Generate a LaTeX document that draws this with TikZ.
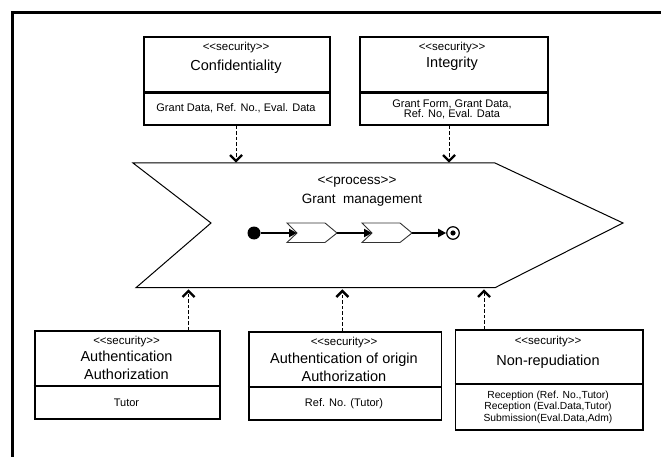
\documentclass[tikz,border=0pt]{standalone}
\usepackage{fontspec}
\setmainfont{Liberation Sans}
\newcommand{\stq}[1]{<{}<#1>{}>}
\tikzset{
  secbox/.style={draw, line width=1.8pt, inner sep=0pt, anchor=north west},
  divider/.style={line width=2.6pt},
  stereo/.style={font=\fontsize{11.5}{13}\selectfont, inner sep=0pt},
  bname/.style={font=\fontsize{14.5}{18}\selectfont, inner sep=0pt, align=center},
  sect/.style={font=\fontsize{11}{11}\selectfont, inner sep=0pt, align=center},
  sectsmall/.style={font=\fontsize{10.3}{11.5}\selectfont, inner sep=0pt, align=center},
  dep/.style={line width=0.9pt, dash pattern=on 3.5pt off 2pt},
  barb/.style={line width=2.4pt, line cap=butt, line join=miter},
  flow/.style={line width=2pt, -{Stealth[length=8pt, width=8pt, inset=0pt]}},
  chev/.style={line width=0.9pt, draw=black!80},
}
\usetikzlibrary{arrows.meta}
\begin{document}
\begin{tikzpicture}[x=1pt,y=-1pt]
\useasboundingbox (0,0) rectangle (661,457);
% frame
\draw[line width=3pt, line join=miter] (661,13) -- (12,13) -- (12,457);

% ---- top boxes
\node[secbox, minimum width=186pt, minimum height=88pt] (conf) at (143.3,36) {};
\draw[divider] (143.3,92.7) -- (329.3,92.7);
\node[stereo] (confst) at (236,48) {\stq{security}};
\node[bname] (confn) at (236,67) {Confidentiality};
\node[sect] (confs) at (236,108.5) {Grant Data, Ref. No., Eval. Data};

\node[secbox, minimum width=187.6pt, minimum height=88pt] (integ) at (359.2,36) {};
\draw[divider] (359.2,92.7) -- (546.8,92.7);
\node[stereo] (integst) at (452,48) {\stq{security}};
\node[bname] (integn) at (452,64) {Integrity};
\node[sect, font=\fontsize{11}{9.5}\selectfont] (integs) at (452,109.5) {Grant Form, Grant Data,\\ Ref. No, Eval. Data};

% ---- process shape
\coordinate (ptl) at (133,163);
\coordinate (ptr) at (495,163);
\coordinate (ptip) at (623,223);
\coordinate (pbr) at (495,287.7);
\coordinate (pbl) at (136,287.7);
\coordinate (pnotch) at (211,223);
\draw[line width=1pt] (ptl) -- (ptr) -- (ptip) -- (pbr) -- (pbl) -- (pnotch) -- cycle;
\node[font=\fontsize{13.5}{15}\selectfont, inner sep=0pt] (procst) at (357,182) {\stq{process}};
\node[font=\fontsize{13.5}{15}\selectfont, inner sep=0pt] (procn) at (362,200) {Grant\ \ management};

% inner flow
\node[circle, fill=black, minimum size=13pt, inner sep=0pt] (start) at (254,233) {};
\draw[chev] (287,223) -- (325,223) -- (337,233) -- (325,242.5) -- (287,242.5) -- (297,233) -- cycle;
\draw[chev] (362,223) -- (400,223) -- (412,233) -- (400,242.5) -- (362,242.5) -- (372,233) -- cycle;
\coordinate (c1in) at (297,233);
\coordinate (c1out) at (337,233);
\coordinate (c2in) at (372,233);
\coordinate (c2out) at (412,233);
\node[circle, draw, line width=1.2pt, minimum size=12.5pt, inner sep=0pt] (finish) at (453,233) {};
\fill (finish.center) circle (2.6pt);
\draw[flow] (start) -- (c1in);
\draw[flow] (c1out) -- (c2in);
\draw[flow] (c2out) -- (finish);

% top dependency arrows
\coordinate (a1) at (236,161);
\coordinate (a2) at (449,161);
\draw[dep] (conf.south -| a1) -- (a1);
\draw[dep] (integ.south -| a2) -- (a2);
\draw[barb] ([xshift=-6pt,yshift=6pt]a1) -- (a1) -- ([xshift=6pt,yshift=6pt]a1);
\draw[barb] ([xshift=-6pt,yshift=6pt]a2) -- (a2) -- ([xshift=6pt,yshift=6pt]a2);

% ---- bottom boxes
\node[secbox, minimum width=185.5pt, minimum height=88pt] (auth) at (33.7,330) {};
\draw[divider] (33.7,386) -- (219.2,386);
\node[stereo] (authst) at (126.5,341.5) {\stq{security}};
\node[bname] (authn) at (126.5,365) {Authentication\\Authorization};
\node[sect] (auths) at (126.5,402.5) {Tutor};

\node[secbox, minimum width=192.7pt, minimum height=88pt] (orig) at (247.9,331) {};
\draw[divider] (247.9,387) -- (440.6,387);
\node[stereo] (origst) at (344,342.5) {\stq{security}};
\node[bname] (orign) at (344,367.5) {Authentication of origin\\Authorization};
\node[sect] (origs) at (344,403.5) {Ref. No. (Tutor)};

\node[secbox, minimum width=187.5pt, minimum height=100pt] (nonrep) at (454.5,329) {};
\draw[divider] (454.5,384) -- (642,384);
\node[stereo] (nonrepst) at (548,341.5) {\stq{security}};
\node[bname] (nonrepn) at (548,361.5) {Non-repudiation};
\node[sectsmall] (nonreps) at (548,407) {Reception (Ref. No.,Tutor)\\Reception (Eval.Data,Tutor)\\Submission(Eval.Data,Adm)};

% bottom dependency arrows
\coordinate (b1) at (188.5,291);
\coordinate (b2) at (342.3,291);
\coordinate (b3) at (484,291);
\draw[dep] (auth.north -| b1) -- (b1);
\draw[dep] (orig.north -| b2) -- (b2);
\draw[dep] (nonrep.north -| b3) -- (b3);
\draw[barb] ([xshift=-6pt,yshift=-6pt]b1) -- (b1) -- ([xshift=6pt,yshift=-6pt]b1);
\draw[barb] ([xshift=-6pt,yshift=-6pt]b2) -- (b2) -- ([xshift=6pt,yshift=-6pt]b2);
\draw[barb] ([xshift=-6pt,yshift=-6pt]b3) -- (b3) -- ([xshift=6pt,yshift=-6pt]b3);
\end{tikzpicture}
\end{document}
